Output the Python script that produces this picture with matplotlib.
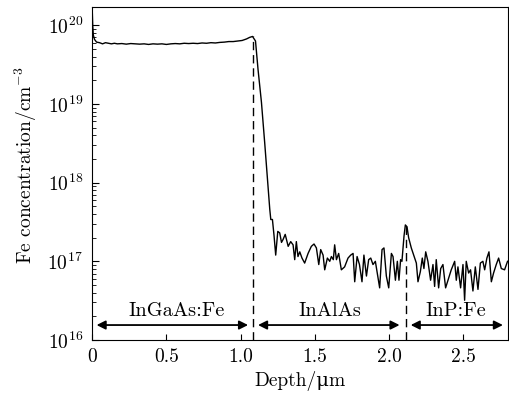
import matplotlib
matplotlib.use("Agg")
import matplotlib.pyplot as plt

plt.rcParams['font.family'] = ['cmr10', 'DejaVu Serif']
plt.rcParams['mathtext.fontset'] = 'cm'
plt.rcParams['axes.formatter.use_mathtext'] = True
plt.rcParams['axes.unicode_minus'] = False

# Depth (µm) and Fe concentration (cm^-3) read from the SIMS profile
depth = [
    0.000, 0.004, 0.008, 0.016, 0.03, 0.05, 0.07, 0.09, 0.11, 0.13, 0.15, 0.17,
    0.20, 0.23, 0.26, 0.29, 0.32, 0.35, 0.38, 0.41, 0.44, 0.47, 0.50, 0.53,
    0.56, 0.59, 0.62, 0.65, 0.68, 0.71, 0.74, 0.77, 0.80, 0.83, 0.86, 0.89,
    0.92, 0.95, 0.98, 1.01, 1.04, 1.06, 1.08, 1.10, 1.117, 1.14, 1.162, 1.184,
    1.196, 1.203, 1.214, 1.225, 1.236, 1.25, 1.263, 1.275, 1.286, 1.30, 1.32,
    1.337, 1.353, 1.364, 1.375, 1.386, 1.398, 1.413, 1.431, 1.454, 1.476,
    1.494, 1.51, 1.526, 1.539, 1.555, 1.566, 1.584, 1.60, 1.611, 1.624,
    1.633, 1.645, 1.66, 1.678, 1.70, 1.723, 1.741, 1.757, 1.768, 1.784,
    1.80, 1.817, 1.83, 1.847, 1.862, 1.876, 1.891, 1.907, 1.925, 1.936,
    1.952, 1.965, 1.981, 1.997, 2.015, 2.026, 2.042, 2.055, 2.066, 2.077,
    2.086, 2.10, 2.109, 2.12, 2.131, 2.149, 2.172, 2.183, 2.194, 2.21,
    2.223, 2.234, 2.246, 2.261, 2.279, 2.295, 2.306, 2.317, 2.333, 2.347,
    2.362, 2.38, 2.396, 2.418, 2.441, 2.452, 2.463, 2.481, 2.497, 2.508,
    2.519, 2.535, 2.548, 2.564, 2.58, 2.598, 2.614, 2.631, 2.643, 2.658,
    2.672, 2.688, 2.703, 2.721, 2.737, 2.755, 2.777, 2.797,
]
fe_conc = [
    1.7e20, 1.0e20, 7.5e19, 6.6e19, 6.1e19, 6.0e19, 5.8e19, 6.0e19, 5.9e19, 5.8e19, 5.9e19, 5.8e19,
    5.85e19, 5.75e19, 5.85e19, 5.8e19, 5.75e19, 5.8e19, 5.7e19, 5.8e19, 5.75e19, 5.8e19, 5.7e19, 5.8e19,
    5.85e19, 5.8e19, 5.9e19, 5.85e19, 5.9e19, 5.85e19, 5.95e19, 5.9e19, 6.0e19, 5.95e19, 6.05e19, 6.1e19,
    6.2e19, 6.2e19, 6.3e19, 6.4e19, 6.7e19, 7.0e19, 7.2e19, 6.3e19, 2.75e19, 1.05e19, 3.2e18, 8.9e17,
    4.6e17, 3.4e17, 3.4e17, 2.1e17, 1.2e17, 2.4e17, 2.3e17, 1.74e17, 1.9e17, 2.2e17, 1.55e17,
    1.78e17, 1.62e17, 1.05e17, 1.78e17, 1.15e17, 1.32e17, 1.1e17, 9.5e16, 1.26e17, 1.55e17,
    1.66e17, 1.48e17, 9.1e16, 1.41e17, 1.2e17, 7.8e16, 1.1e17, 1.0e17, 1.15e17, 1.05e17,
    1.62e17, 1.05e17, 1.26e17, 7.8e16, 8.5e16, 1.1e17, 1.2e17, 1.26e17, 5.5e16, 1.15e17,
    9.1e16, 5.5e16, 1.2e17, 6.5e16, 1.05e17, 1.1e17, 9.1e16, 1.0e17, 6.2e16, 4.6e16,
    1.41e17, 1.48e17, 6.5e16, 4.6e16, 1.26e17, 1.15e17, 5.75e16, 1.0e17, 5.75e16, 1.05e17,
    1.0e17, 2.1e17, 2.9e17, 2.75e17, 2.0e17, 1.48e17, 1.1e17, 9.5e16, 5.5e16, 7.4e16,
    1.1e17, 8.1e16, 1.32e17, 1.0e17, 5.75e16, 9.1e16, 4.8e16, 1.05e17, 4.6e16, 8.1e16,
    9.1e16, 4.6e16, 5.75e16, 7.8e16, 1.0e17, 5.75e16, 8.5e16, 4.6e16, 9.1e16, 3.2e16,
    1.0e17, 7.1e16, 7.8e16, 4.2e16, 8.5e16, 4.4e16, 9.5e16, 1.0e17, 7.8e16, 1.1e17,
    1.32e17, 5.5e16, 7.1e16, 9.1e16, 1.1e17, 8.1e16, 7.8e16, 1.0e17,
]

interfaces = [1.08, 2.11]
interface_tops = [7.2e19, 2.9e17]
layer_names = ['InGaAs:Fe', 'InAlAs', 'InP:Fe']
layer_spans = [(0.03, 1.05), (1.117, 2.07), (2.145, 2.766)]
layer_label_x = [0.57, 1.6, 2.45]

FS = 14

fig = plt.figure(figsize=(5.09, 3.94), dpi=100)
ax = fig.add_axes([0.181, 0.137, 0.817, 0.845])

ax.plot(depth, fe_conc, color='black', lw=1.0)
for x, top in zip(interfaces, interface_tops):
    ax.plot([x, x], [1e16, top], color='black', lw=1.0, dashes=(6, 3.5))

arrow_y = 1.55e16
for (x0, x1), name, lx in zip(layer_spans, layer_names, layer_label_x):
    ax.annotate('', xy=(x1, arrow_y), xytext=(x0, arrow_y),
                arrowprops=dict(arrowstyle='<|-|>', color='black', lw=1.3,
                                mutation_scale=13, shrinkA=0, shrinkB=0))
    ax.text(lx, 2.35e16, name, ha='center', va='center', fontsize=14.7)

ax.set_yscale('log')
ax.set_xlim(0, 2.8)
ax.set_ylim(1e16, 1.7e20)
ax.set_xticks([0, 0.5, 1.0, 1.5, 2.0, 2.5], labels=['0', '0.5', '1.0', '1.5', '2.0', '2.5'])
ax.set_yticks([1e16, 1e17, 1e18, 1e19, 1e20])
ax.tick_params(axis='both', which='both', direction='in', labelsize=FS, top=False, right=False)
ax.tick_params(axis='y', which='major', length=5, pad=6.5)
ax.tick_params(axis='y', which='minor', length=3)
ax.tick_params(axis='x', which='major', length=4, pad=5.5)
ax.tick_params(axis='x', which='minor', bottom=False)

ax.set_xlabel('Depth/μm', fontsize=FS)
ax.set_ylabel('Fe concentration/cm$^{-3}$', fontsize=FS)
ax.xaxis.set_label_coords(0.5, -0.093)
ax.yaxis.set_label_coords(-0.128, 0.525)

fig.savefig('out.png', dpi=100)
